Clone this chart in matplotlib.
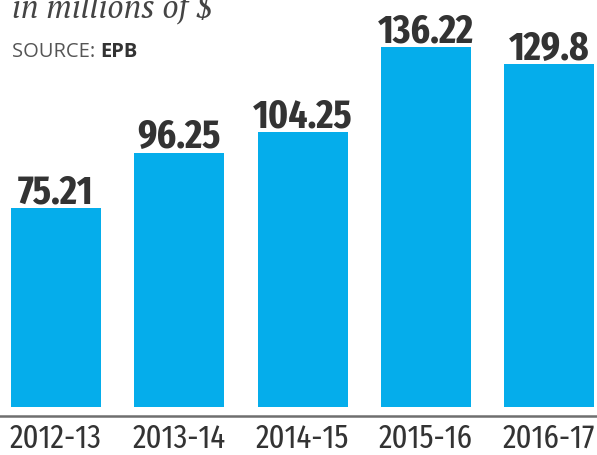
import matplotlib
matplotlib.use("Agg")
import matplotlib.pyplot as plt
import matplotlib.transforms as mtransforms

years = ["2012-13", "2013-14", "2014-15", "2015-16", "2016-17"]
values = [75.21, 96.25, 104.25, 136.22, 129.8]
value_labels = ["75.21", "96.25", "104.25", "136.22", "129.8"]

BAR_COLOR = "#05ADEB"
TEXT_DARK = "#333333"
NARROW = ["Fira Sans Extra Condensed", "PT Sans Narrow", "DejaVu Sans"]

fig = plt.figure(figsize=(5.97, 4.56), dpi=100)
ax = fig.add_axes([0, 0, 1, 1])
ax.set_xlim(-0.454, 4.389)
ax.set_ylim(-18.2, 154.5)
ax.axis("off")

x = list(range(len(years)))
ax.bar(x, values, width=0.73, color=BAR_COLOR, linewidth=0)

for xi, v, lab in zip(x, values, value_labels):
    ax.annotate(lab, (xi, v), xytext=(0, 4), textcoords="offset points",
                ha="center", va="baseline", fontsize=29, fontweight="bold",
                family=NARROW, color=TEXT_DARK)

# baseline
ax.axhline(-3.4, color="#6f6f6f", linewidth=1.8)

trans = mtransforms.blended_transform_factory(ax.transData, ax.transAxes)
for xi, lab in zip(x, years):
    ax.text(xi, 1 - 448 / 456, lab, transform=trans, ha="center", va="baseline",
            fontsize=24, family=NARROW, color=TEXT_DARK)

fig.text(12 / 597, 1 - 18 / 456, "in millions of $", ha="left", va="baseline",
         fontsize=23, style="italic", family=["PT Serif", "Liberation Serif", "DejaVu Serif"],
         color="#444444")
t = fig.text(12 / 597, 1 - 57 / 456, "SOURCE: ", ha="left", va="baseline",
             fontsize=14.5, family=["Open Sans", "DejaVu Sans"], color="#555555")
fig.canvas.draw()
bb = t.get_window_extent()
fig.text(bb.x1 / fig.bbox.width, 1 - 57 / 456, "EPB", ha="left", va="baseline",
         fontsize=14.5, fontweight="bold", family=["Open Sans", "DejaVu Sans"],
         color="#333333")

fig.savefig("out.png", dpi=100)
